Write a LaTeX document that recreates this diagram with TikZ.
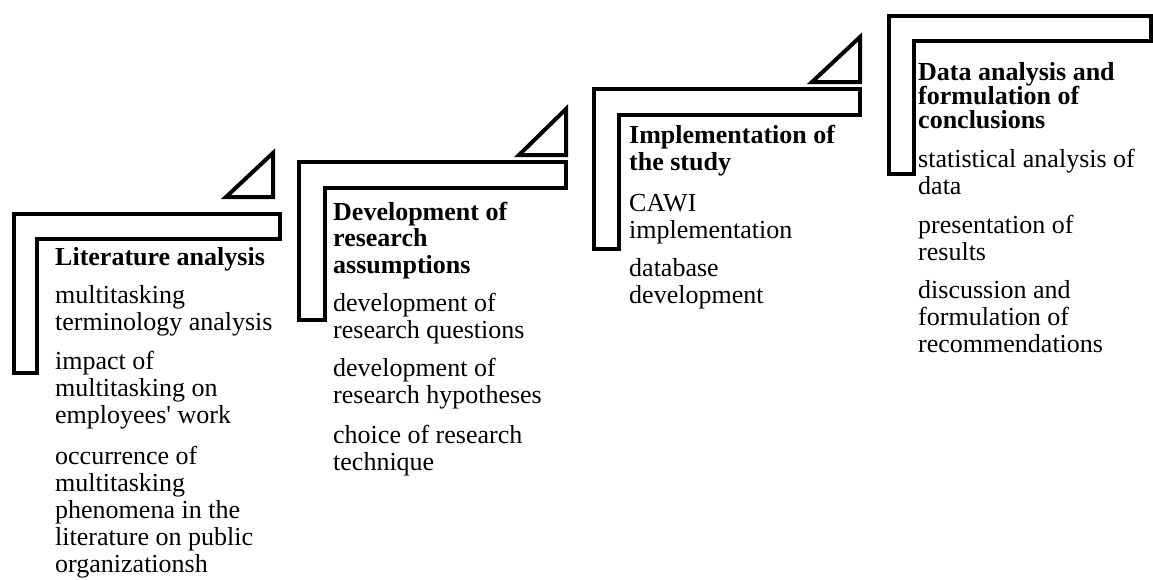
\documentclass[tikz,border=0pt]{standalone}
\usepackage{fontspec}
\setmainfont{Liberation Serif}
\usetikzlibrary{positioning}

\begin{document}
\begin{tikzpicture}[x=1pt, y=-1pt,
  stair/.style={draw=black, line width=4pt},
  head/.style={anchor=base west, align=left, inner sep=0pt,
    font=\fontsize{26}{26.5}\selectfont\bfseries},
  item/.style={anchor=base west, align=left, inner sep=0pt,
    font=\fontsize{26}{27}\selectfont}]
  \useasboundingbox (0,0) rectangle (1153,579);

  % stairs
  \draw[stair] (14,214) -- (280,214) -- (280,239) -- (37,239) -- (37,373) -- (14,373) -- cycle;
  \draw[stair] (226,197) -- (273,197) -- (273,153) -- cycle;
  \draw[stair] (299,162) -- (566,162) -- (566,188) -- (325,188) -- (325,320) -- (299,320) -- cycle;
  \draw[stair] (519,155) -- (566,155) -- (566,109) -- cycle;
  \draw[stair] (594,89) -- (860,89) -- (860,115) -- (619,115) -- (619,249) -- (594,249) -- cycle;
  \draw[stair] (812,82) -- (860,82) -- (860,37) -- cycle;
  \draw[stair] (889,16) -- (1151,16) -- (1151,41) -- (914,41) -- (914,174) -- (889,174) -- cycle;

  % step 1 (nodes sit on the baseline of their last line)
  \node[head] (lit) at (55,265) {Literature analysis};
  \node[item] (lit1) at (55,330) {multitasking\\terminology analysis};
  \node[item] (lit2) at (55,423) {impact of\\multitasking on\\employees\textquotesingle\ work};
  \node[item] (lit3) at (55,572) {occurrence of\\multitasking\\phenomena in the\\literature on public\\organizationsh};

  % step 2
  \node[head] (dev) at (333,273) {Development of\\research\\assumptions};
  \node[item] (dev1) at (333,338) {development of\\research questions};
  \node[item] (dev2) at (333,403) {development of\\research hypotheses};
  \node[item] (dev3) at (333,470) {choice of research\\technique};

  % step 3
  \node[head] (imp) at (629,170) {Implementation of\\the study};
  \node[item] (imp1) at (629,238) {CAWI\\implementation};
  \node[item] (imp2) at (629,303) {database\\development};

  % step 4
  \node[head, font=\fontsize{26}{24}\selectfont\bfseries] (dat) at (918,128) {Data analysis and\\formulation of\\conclusions};
  \node[item] (dat1) at (918,194) {statistical analysis of\\data};
  \node[item] (dat2) at (918,260) {presentation of\\results};
  \node[item] (dat3) at (918,352) {discussion and\\formulation of\\recommendations};
\end{tikzpicture}
\end{document}
